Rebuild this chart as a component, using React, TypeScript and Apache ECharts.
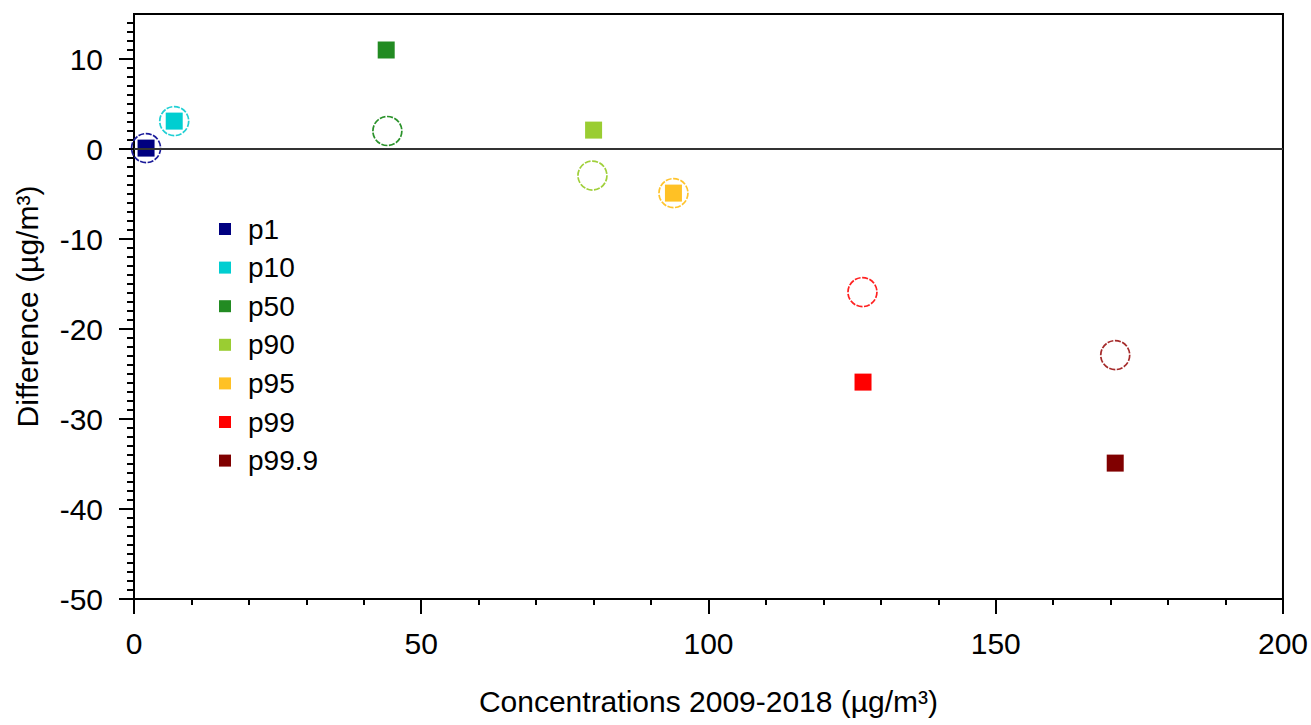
import React, { useEffect, useRef } from "react";
import * as echarts from "echarts";

const names = ["p1", "p10", "p50", "p90", "p95", "p99", "p99.9"];
const colors = ["#000080", "#00CED1", "#228B22", "#9ACD32", "#FFC125", "#FF0000", "#800000"];
const circleColors = ["#1a1a9a", "#20d0d4", "#2a922a", "#a0d03a", "#ffc42e", "#ff2020", "#a52a2a"];
const concentrations = [2.1, 7.0, 43.9, 80.0, 93.9, 126.9, 170.8];
const circleConc = [2.1, 7.0, 44.1, 79.8, 93.9, 126.8, 170.8];
const squareDiff = [0.1, 3.1, 11.0, 2.1, -4.9, -25.9, -34.9];
const circleDiff = [0.1, 3.1, 2.0, -2.95, -4.9, -15.9, -22.9];
const yTicks = [-50, -40, -30, -20, -10, 0, 10];
const xTicks = [0, 50, 100, 150, 200];

const FONT = "'Liberation Sans', Arial, sans-serif";

export default function App() {
  const ref = useRef<HTMLDivElement>(null);
  useEffect(() => {
    if (!ref.current) return;
    const chart = echarts.init(ref.current, null, { renderer: "svg" });
    const circleSeries = names.map((n, i) => ({
      name: n + " circle",
      type: "scatter",
      symbol: "circle",
      symbolSize: 29,
      z: 2,
      itemStyle: {
        color: "rgba(255,255,255,0)",
        borderColor: circleColors[i],
        borderWidth: 1.7,
        borderType: [6, 1.5],
        opacity: 1,
      },
      data: [[circleConc[i], circleDiff[i]]],
      ...(i === 0
        ? {
            markLine: {
              silent: true,
              symbol: "none",
              label: { show: false },
              lineStyle: { color: "#333", width: 2, type: "solid", opacity: 1 },
              data: [{ yAxis: 0 }],
            },
          }
        : {}),
    }));
    const squareSeries = names.map((n, i) => ({
      name: n,
      type: "scatter",
      symbol: "rect",
      symbolSize: 17,
      z: 3,
      itemStyle: { color: colors[i], opacity: 1 },
      data: [[concentrations[i], squareDiff[i]]],
    }));
    chart.setOption({
      animation: false,
      backgroundColor: "#fff",
      textStyle: { fontFamily: FONT },
      grid: {
        left: 134,
        right: 27,
        top: 14,
        bottom: 126,
        show: true,
        borderColor: "#000",
        borderWidth: 2,
        backgroundColor: "transparent",
      },
      legend: {
        data: names,
        orient: "vertical",
        left: 214,
        top: 210,
        itemWidth: 12,
        itemHeight: 12,
        itemGap: 10.6,
        icon: "rect",
        textStyle: {
          fontFamily: FONT,
          fontSize: 28,
          color: "#000",
          lineHeight: 28,
          padding: [0, 0, 0, 12],
        },
      },
      xAxis: {
        type: "value",
        min: 0,
        max: 200,
        interval: 50,
        name: "Concentrations 2009-2018 (µg/m³)",
        nameLocation: "middle",
        nameGap: 87,
        nameTextStyle: { fontFamily: FONT, fontSize: 30, color: "#000" },
        axisLine: { show: true, onZero: false, lineStyle: { color: "#000", width: 2 } },
        axisTick: { show: true, length: 15, lineStyle: { color: "#000", width: 2 }, customValues: xTicks },
        minorTick: { show: true, splitNumber: 5, length: 6, lineStyle: { color: "#000", width: 2 } },
        axisLabel: { fontFamily: FONT, fontSize: 30, color: "#000", margin: 29, customValues: xTicks },
        splitLine: { show: false },
      },
      yAxis: {
        type: "value",
        min: -50,
        max: 15,
        interval: 10,
        name: "Difference (µg/m³)",
        nameLocation: "middle",
        nameGap: 92,
        nameTextStyle: { fontFamily: FONT, fontSize: 30, color: "#000" },
        axisLine: { show: true, onZero: false, lineStyle: { color: "#000", width: 2 } },
        axisTick: { show: true, length: 15, lineStyle: { color: "#000", width: 2 }, customValues: yTicks },
        minorTick: { show: true, splitNumber: 10, length: 7, lineStyle: { color: "#000", width: 2 } },
        axisLabel: {
          fontFamily: FONT,
          fontSize: 30,
          color: "#000",
          margin: 31,
          customValues: yTicks,
        },
        splitLine: { show: false },
      },
      series: [...circleSeries, ...squareSeries],
    });
    return () => chart.dispose();
  }, []);
  return (
    <div
      ref={ref}
      style={{ position: "fixed", left: 0, top: 0, width: 1311, height: 725 }}
    />
  );
}
